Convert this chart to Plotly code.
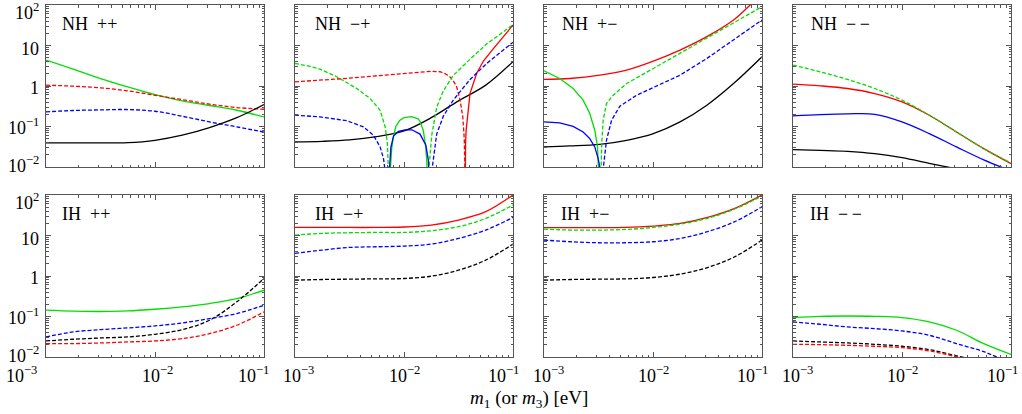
import plotly.graph_objects as go
from plotly.subplots import make_subplots
import numpy as np

# ---------------- data ----------------
# x positions given as log10(m / eV); y values in plotted units
lgm_q = [-3, -2.75, -2.5, -2.25, -2.0, -1.75, -1.5, -1.25, -1.0]

# NH ++
nhpp_green = [4.36, 2.61, 1.53, 0.953, 0.616, 0.430, 0.330, 0.252, 0.173]
nhpp_red = [1.05, 0.99, 0.90, 0.76, 0.59, 0.46, 0.356, 0.294, 0.267]
nhpp_blue = [0.230, 0.248, 0.257, 0.262, 0.238, 0.179, 0.130, 0.098, 0.073]
nhpp_black = [0.0393, 0.0393, 0.0393, 0.040, 0.0457, 0.061, 0.094, 0.165, 0.348]

# NH -+
nhmp_black = [0.0416, 0.043, 0.0466, 0.0563, 0.0778, 0.165, 0.43, 1.05, 4.0]
nhmp_red_dash_x = [-3, -2.75, -2.5, -2.25, -2.0, -1.85, -1.75, -1.67, -1.62, -1.58,
                   -1.545, -1.517, -1.486, -1.461, -1.447, -1.441, -1.440]
nhmp_red_dash = [1.27, 1.39, 1.56, 1.79, 2.04, 2.22, 2.30, 2.25, 2.0, 1.70,
                 1.3, 0.96, 0.45, 0.175, 0.05, 0.008, 0.001]
nhmp_red_sol_x = [-1.440, -1.439, -1.435, -1.43, -1.419, -1.394, -1.333, -1.27,
                  -1.178, -1.086, -1.0]
nhmp_red_sol = [0.001, 0.008, 0.04, 0.08, 0.17, 0.66, 2.06, 4.2, 8.47, 16.4, 32]
nhmp_green_dl_x = [-3, -2.87, -2.77, -2.617, -2.433, -2.311, -2.219, -2.173, -2.152,
                   -2.140, -2.132]
nhmp_green_dl = [3.6, 3.1, 2.6, 1.69, 0.867, 0.491, 0.252, 0.0977, 0.0378, 0.012, 0.001]
nhmp_green_arch_x = [-2.132, -2.124, -2.112, -2.095, -2.075, -2.04, -2.0, -1.93, -1.87,
                     -1.853, -1.823, -1.80, -1.79, -1.780]
nhmp_green_arch = [0.001, 0.01, 0.03, 0.06, 0.1, 0.14, 0.165, 0.175, 0.155, 0.135,
                   0.08, 0.03, 0.012, 0.001]
nhmp_green_dr_x = [-1.780, -1.770, -1.746, -1.70, -1.64, -1.55, -1.39, -1.24, -1.086, -1.0]
nhmp_green_dr = [0.001, 0.01, 0.06, 0.3, 0.75, 1.8, 4.7, 11, 22, 33]
nhmp_blue_dl_x = [-3, -2.77, -2.525, -2.372, -2.280, -2.219, -2.188, -2.173, -2.163, -2.155]
nhmp_blue_dl = [0.190, 0.173, 0.139, 0.0977, 0.0607, 0.0313, 0.0161, 0.01, 0.005, 0.001]
nhmp_blue_arch_x = [-2.155, -2.136, -2.121, -2.096, -2.051, -1.99, -1.928, -1.853, -1.80,
                    -1.777, -1.765, -1.755]
nhmp_blue_arch = [0.001, 0.01, 0.03, 0.058, 0.076, 0.083, 0.083, 0.065, 0.035, 0.015,
                  0.006, 0.001]
nhmp_blue_dr_x = [-1.755, -1.740, -1.70, -1.639, -1.548, -1.394, -1.241, -1.086, -1.0]
nhmp_blue_dr = [0.001, 0.01, 0.065, 0.18, 0.45, 1.45, 3.6, 8.0, 12.0]

# NH +-
nhpm_x = [-3, -2.764, -2.488, -2.242, -1.997, -1.752, -1.506, -1.261, -1.108, -1.0]
nhpm_red = [1.45, 1.53, 1.85, 2.47, 4.11, 7.7, 16.5, 42.6, 100, 182]
nhpm_black_x = [-3, -2.764, -2.488, -2.242, -1.997, -1.752, -1.506, -1.261, -1.0]
nhpm_black = [0.0313, 0.0331, 0.0364, 0.0457, 0.0668, 0.130, 0.336, 1.15, 5.27]
nhpm_green_sol_x = [-3, -2.93, -2.856, -2.733, -2.641, -2.580, -2.534, -2.509, -2.497, -2.485]
nhpm_green_sol = [2.37, 1.95, 1.53, 0.867, 0.446, 0.209, 0.0807, 0.0313, 0.0114, 0.001]
nhpm_green_dash_x = [-2.485, -2.478, -2.470, -2.457, -2.427, -2.365, -2.242, -1.997,
                     -1.752, -1.506, -1.261, -1.0]
nhpm_green_dash = [0.001, 0.012, 0.04, 0.143, 0.369, 0.593, 1.15, 2.71, 6.37, 15.0, 36.5, 91]
nhpm_blue_sol_x = [-3, -2.856, -2.733, -2.641, -2.580, -2.534, -2.503, -2.488, -2.472]
nhpm_blue_sol = [0.130, 0.123, 0.101, 0.0734, 0.0502, 0.0313, 0.0161, 0.01, 0.001]
nhpm_blue_dash_x = [-2.472, -2.455, -2.427, -2.380, -2.304, -2.150, -1.997, -1.752,
                    -1.506, -1.261, -1.0]
nhpm_blue_dash = [0.001, 0.01, 0.0457, 0.143, 0.317, 0.593, 0.918, 1.85, 4.79, 14.1, 42.6]

# NH --
nhmm_green = [3.27, 2.24, 1.45, 0.867, 0.446, 0.190, 0.0734, 0.0284, 0.0126]
nhmm_red = [1.11, 1.01, 0.867, 0.652, 0.406, 0.190, 0.0734, 0.0284, 0.0121]
nhmm_blue = [0.183, 0.197, 0.205, 0.200, 0.130, 0.0668, 0.0313, 0.0150, 0.0080]
nhmm_black = [0.0269, 0.0258, 0.0244, 0.0214, 0.0170, 0.0123, 0.0090, 0.0065, 0.0045]

# IH ++
ihpp_green = [0.143, 0.135, 0.133, 0.137, 0.151, 0.173, 0.209, 0.277, 0.446]
ihpp_black = [0.0249, 0.0274, 0.0295, 0.0313, 0.0364, 0.0474, 0.0807, 0.230, 0.867]
ihpp_blue = [0.0313, 0.0416, 0.0474, 0.0522, 0.0585, 0.0694, 0.0888, 0.118, 0.190]
ihpp_red = [0.0214, 0.0214, 0.0222, 0.0235, 0.0249, 0.0284, 0.0378, 0.0608, 0.130]

# IH -+
ihmp_red = [15.8, 15.8, 15.8, 15.8, 16.2, 18.1, 24.1, 38.7, 100]
ihmp_green = [10.2, 11.3, 11.7, 11.9, 11.9, 13.1, 16.5, 26.5, 56.6]
ihmp_blue = [3.60, 4.36, 5.07, 5.27, 5.47, 6.13, 8.47, 13.6, 28.0]
ihmp_black = [0.789, 0.819, 0.835, 0.85, 0.867, 0.99, 1.39, 2.47, 6.13]

# IH +-
ihpm_red = [15.6, 15.6, 15.6, 15.8, 17.1, 19.9, 28.0, 46.8, 100]
ihpm_green = [14.4, 13.6, 13.6, 14.1, 15.8, 19.2, 26.5, 45.1, 94.4]
ihpm_blue = [7.7, 7.0, 6.62, 6.62, 7.0, 8.47, 12.4, 21.9, 51.5]
ihpm_black = [0.789, 0.819, 0.835, 0.85, 0.918, 1.11, 1.62, 2.98, 7.7]

# IH --
ihmm_green = [0.094, 0.101, 0.103, 0.101, 0.094, 0.0734, 0.0457, 0.0214, 0.0116]
ihmm_blue = [0.0734, 0.0643, 0.0552, 0.0502, 0.0440, 0.0344, 0.0214, 0.0135, 0.0070]
ihmm_black = [0.0249, 0.0235, 0.0222, 0.0206, 0.0184, 0.0152, 0.0107, 0.0075, 0.0045]
ihmm_red = [0.0206, 0.0202, 0.0194, 0.0184, 0.0170, 0.0141, 0.0102, 0.0075, 0.0045]

panel_labels = ["NH\u00a0\u00a0++", "NH\u00a0\u00a0\u2212+", "NH\u00a0\u00a0+\u2212", "NH\u00a0\u00a0\u2212\u2009\u2212",
                "IH\u00a0\u00a0++", "IH\u00a0\u00a0\u2212+", "IH\u00a0\u00a0+\u2212", "IH\u00a0\u00a0\u2212\u2009\u2212"]
x_tick_exp = [-3, -2, -1]
x_ticktext = ["10<sup>\u22123</sup>", "10<sup>\u22122</sup>", "10<sup>\u22121</sup>"]
y_tick_exp = [-2, -1, 0, 1, 2]
y_ticktext = ["10<sup>\u22122</sup>", "10<sup>\u22121</sup>", "1", "10", "10<sup>2</sup>"]
x_title = "<i>m</i><sub>1</sub> (or <i>m</i><sub>3</sub>) [eV]"

# ---------------- styling ----------------
RED, GREEN, BLUE, BLACK = "#ff0000", "#00dd00", "#0000ff", "#000000"
SOLID, DASH = "solid", "4px,2px"
W, H = 1022, 414
col_px = [(46, 264), (295, 513), (544, 762), (793, 1011)]
row_px = [(5, 167), (195, 357)]
label_dx = [[14, 18, 16, 16], [14, 18, 15, 15]]
FONT = "Liberation Serif, Times New Roman, serif"
# per-label offsets (px) of the tick texts
x_lab_shift = [[-25, 2, -11], [3, 0, -10], [4, 0, -10], [4, 0, -9]]
y_lab_shift = [3, 0, -2, -3.5, -6]

fig = make_subplots(rows=2, cols=4)


def add(row, col, lgx, y, color, dash, shape="spline"):
    fig.add_trace(go.Scatter(
        x=np.power(10.0, np.asarray(lgx, dtype=float)), y=y, mode="lines",
        line=dict(color=color, width=1.3, dash=dash, shape=shape, smoothing=1.0),
        hoverinfo="skip", showlegend=False), row=row, col=col)


# NH ++
add(1, 1, lgm_q, nhpp_green, GREEN, SOLID)
add(1, 1, lgm_q, nhpp_red, RED, DASH)
add(1, 1, lgm_q, nhpp_blue, BLUE, DASH)
add(1, 1, lgm_q, nhpp_black, BLACK, SOLID)
# NH -+
add(1, 2, lgm_q, nhmp_black, BLACK, SOLID)
add(1, 2, nhmp_red_dash_x, nhmp_red_dash, RED, DASH, "linear")
add(1, 2, nhmp_red_sol_x, nhmp_red_sol, RED, SOLID, "linear")
add(1, 2, nhmp_green_dl_x, nhmp_green_dl, GREEN, DASH, "linear")
add(1, 2, nhmp_green_arch_x, nhmp_green_arch, GREEN, SOLID, "linear")
add(1, 2, nhmp_green_dr_x, nhmp_green_dr, GREEN, DASH, "linear")
add(1, 2, nhmp_blue_dl_x, nhmp_blue_dl, BLUE, DASH, "linear")
add(1, 2, nhmp_blue_arch_x, nhmp_blue_arch, BLUE, SOLID, "linear")
add(1, 2, nhmp_blue_dr_x, nhmp_blue_dr, BLUE, DASH, "linear")
# NH +-
add(1, 3, nhpm_x, nhpm_red, RED, SOLID)
add(1, 3, nhpm_black_x, nhpm_black, BLACK, SOLID)
add(1, 3, nhpm_green_sol_x, nhpm_green_sol, GREEN, SOLID, "linear")
add(1, 3, nhpm_green_dash_x, nhpm_green_dash, GREEN, DASH, "linear")
add(1, 3, nhpm_blue_sol_x, nhpm_blue_sol, BLUE, SOLID, "linear")
add(1, 3, nhpm_blue_dash_x, nhpm_blue_dash, BLUE, DASH, "linear")
# NH --
add(1, 4, lgm_q, nhmm_black, BLACK, SOLID)
add(1, 4, lgm_q, nhmm_blue, BLUE, SOLID)
add(1, 4, lgm_q, nhmm_red, RED, SOLID)
add(1, 4, lgm_q, nhmm_green, GREEN, DASH)
# IH ++
add(2, 1, lgm_q, ihpp_green, GREEN, SOLID)
add(2, 1, lgm_q, ihpp_black, BLACK, DASH)
add(2, 1, lgm_q, ihpp_blue, BLUE, DASH)
add(2, 1, lgm_q, ihpp_red, RED, DASH)
# IH -+
add(2, 2, lgm_q, ihmp_black, BLACK, DASH)
add(2, 2, lgm_q, ihmp_blue, BLUE, DASH)
add(2, 2, lgm_q, ihmp_green, GREEN, DASH)
add(2, 2, lgm_q, ihmp_red, RED, SOLID)
# IH +-
add(2, 3, lgm_q, ihpm_black, BLACK, DASH)
add(2, 3, lgm_q, ihpm_blue, BLUE, DASH)
add(2, 3, lgm_q, ihpm_red, RED, SOLID)
add(2, 3, lgm_q, ihpm_green, GREEN, DASH)
# IH --
add(2, 4, lgm_q, ihmm_green, GREEN, SOLID)
add(2, 4, lgm_q, ihmm_blue, BLUE, DASH)
add(2, 4, lgm_q, ihmm_black, BLACK, DASH)
add(2, 4, lgm_q, ihmm_red, RED, DASH)

x_minor = [k * 10.0 ** e for e in (-3, -2) for k in range(2, 10)]
y_minor = [k * 10.0 ** e for e in (-2, -1, 0, 1) for k in range(2, 10)]
FRAME = "#555555"
common = dict(showline=True, linecolor=FRAME, linewidth=1, mirror="allticks",
              ticks="inside", ticklen=5, tickwidth=1, tickcolor=FRAME,
              showgrid=False, zeroline=False, type="log", showticklabels=False)
tfont = dict(family=FONT, size=18, color="#000")
lfont = dict(family=FONT, size=18, color="#000")

annotations = []
for r in range(2):
    for c in range(4):
        idx = r * 4 + c + 1
        sfx = "" if idx == 1 else str(idx)
        x0, x1 = col_px[c]
        y0, y1 = row_px[r]
        fig.layout["xaxis" + sfx].update(
            domain=[x0 / W, x1 / W], range=[-3, -1],
            tickmode="array", tickvals=[10.0 ** e for e in x_tick_exp],
            minor=dict(ticks="inside", ticklen=2.5, tickcolor=FRAME, tickwidth=1,
                       tickmode="array", tickvals=x_minor, showgrid=False),
            **common)
        fig.layout["yaxis" + sfx].update(
            domain=[1 - y1 / H, 1 - y0 / H], range=[-2, 2],
            tickmode="array", tickvals=[10.0 ** e for e in y_tick_exp],
            minor=dict(ticks="inside", ticklen=2.5, tickcolor=FRAME, tickwidth=1,
                       tickmode="array", tickvals=y_minor, showgrid=False),
            **common)
        annotations.append(dict(
            text=panel_labels[idx - 1], xref="paper", yref="paper",
            x=(x0 + label_dx[r][c]) / W, y=1 - (y0 + 19) / H, xanchor="left",
            yanchor="middle", showarrow=False, font=lfont))
        if r == 1:
            for e, t, s in zip(x_tick_exp, x_ticktext, x_lab_shift[c]):
                annotations.append(dict(
                    text=t, xref="x" + sfx, yref="paper", x=e, y=1 - 374 / H,
                    xanchor="center", yanchor="middle", xshift=s,
                    showarrow=False, font=tfont))
        if c == 0:
            for e, t, s in zip(y_tick_exp, y_ticktext, y_lab_shift):
                annotations.append(dict(
                    text=t, xref="paper", yref="y" + sfx, x=41 / W, y=e,
                    xanchor="right", yanchor="middle", yshift=s,
                    showarrow=False, font=tfont))

annotations.append(dict(
    text=x_title, xref="paper", yref="paper", x=529 / W, y=1 - 413 / H,
    xanchor="center", yanchor="bottom", showarrow=False,
    font=dict(family=FONT, size=19, color="#000")))

fig.update_layout(width=W, height=H, margin=dict(l=0, r=0, t=0, b=0),
                  paper_bgcolor="white", plot_bgcolor="white",
                  annotations=annotations, showlegend=False)

fig.write_html("out.html")
